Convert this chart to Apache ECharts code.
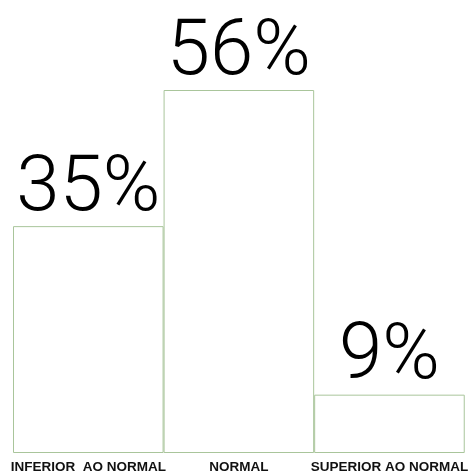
<!DOCTYPE html>
<html>
<head>
<meta charset="utf-8">
<script src="https://cdn.jsdelivr.net/npm/echarts@6/dist/echarts.min.js"></script>
<style>
  html, body { margin: 0; padding: 0; background: #ffffff; }
  #chart { width: 471px; height: 474px; }
</style>
</head>
<body>
<div id="chart"></div>
<script>
// Categories and percentage shares
const categories = ['INFERIOR  AO NORMAL', 'NORMAL', 'SUPERIOR AO NORMAL'];
const shares = [35, 56, 9];

const chart = echarts.init(document.getElementById('chart'), null, { renderer: 'canvas' });

chart.setOption({
  animation: false,
  backgroundColor: '#ffffff',
  grid: { left: 13, right: 5, top: 90, bottom: 18 },
  xAxis: {
    type: 'category',
    data: categories,
    axisLine: { show: false },
    axisTick: { show: false },
    axisLabel: {
      interval: 0,
      margin: 7,
      color: '#111111',
      fontFamily: 'Liberation Sans',
      fontWeight: 'bold',
      fontSize: 13.5
    }
  },
  yAxis: {
    type: 'value',
    min: 0,
    max: 56,
    show: false,
    splitLine: { show: false }
  },
  series: [{
    type: 'bar',
    data: shares,
    barCategoryGap: 0,
    itemStyle: {
      color: '#ffffff',
      borderColor: '#a9c59b',
      borderWidth: 1
    },
    label: {
      show: true,
      position: 'top',
      distance: -3,
      formatter: '{c}%',
      color: '#000000',
      fontFamily: 'Roboto',
      fontWeight: 300,
      fontSize: 78
    }
  }]
});
</script>
</body>
</html>
